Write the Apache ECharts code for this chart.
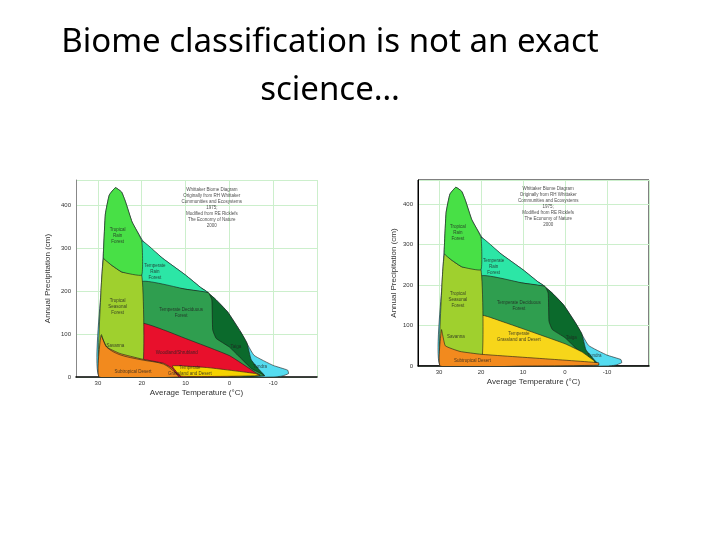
<!DOCTYPE html>
<html><head><meta charset="utf-8">
<script src="https://cdn.jsdelivr.net/npm/echarts@6/dist/echarts.min.js"></script>
<style>body{margin:0;background:#fff}#c{width:720px;height:540px}</style>
</head><body><div id="c"></div>
<script>
// biome polygons, [temperature °C, precipitation cm]
var envelope = [[29.6,0],[29.3,200],[28.7,300],[28.3,380],[27.4,425],[26,442],[24.6,432],[23.7,409],[22.2,362],[19.6,316],[15.2,277],[10,238],[6.3,207],[3.3,183],[0.4,152],[-2.6,105],[-5.6,51],[-10,27],[-13.3,16],[-13.5,8],[-12,2],[-10,0]];
var taiga = [[20,210],[6.3,207],[3.3,183],[0.4,152],[-2.6,105],[-4,80],[-5,40],[-7,15],[-8,3],[20,0]];
var tempRain = [[20,318],[15.2,277],[10,238],[6.3,207],[4.8,197],[10,205],[20,222]];
var tempDecid = [[20,222],[10,205],[4.8,197],[4,180],[3.8,110],[3,90],[0,70],[-5,20],[-8,3],[20,0]];
var woodland = [[20,125],[15,110],[10,90],[0,50],[-6,10],[-7,4],[20,0]];
var grassland1 = [[13,26],[5,22],[-6,8],[-7,3],[11,2]];
var grassland2 = [[20,125],[15,110],[10,92],[0,55],[-4,35],[-7,12],[-7,4],[20,0]];
var tropSeason = [[29.6,0],[29.3,200],[28.7,277],[27,262],[24.5,245],[20,238],[20,0]];
var tropRain = [[28.7,277],[28.7,300],[28.3,380],[27.4,425],[26,442],[24.6,432],[23.7,409],[22.2,362],[20,318],[20,238],[24.5,245],[27,262]];
var savannaLine = [[29.2,100],[28,70],[25,52],[20,40],[15,30],[12,8],[11,0]];
var desert1 = [[29.7,0],[29.3,97],[28,70],[25,55],[20,42],[15,32],[13,20],[12,6],[11.5,0]];
var desert2 = [[29.7,0],[29.4,90],[28.5,50],[25,36],[20,29],[5,18],[-8,8],[-8,2],[10,0]];

var biomes1 = [[envelope,'#55dcf0'],[taiga,'#0b6a2c'],[tempRain,'#2ce6a6'],[tempDecid,'#2f9e4f'],[woodland,'#e8102c'],[grassland1,'#f5d200'],[tropSeason,'#9fd02e'],[tropRain,'#48e046'],[desert1,'#f28a1e']];
var biomes2 = [[envelope,'#55dcf0'],[taiga,'#0b6a2c'],[tempRain,'#2ce6a6'],[tempDecid,'#2f9e4f'],[grassland2,'#f7d61a'],[tropSeason,'#9fd02e'],[tropRain,'#48e046'],[desert2,'#f28a1e']];

var labelNames1 = ['Tropical\nRain\nForest','Temperate\nRain\nForest','Tropical\nSeasonal\nForest','Temperate Deciduous\nForest','Savanna','Woodland/Shrubland','Taiga','Tundra','Temperate\nGrassland and Desert','Subtropical Desert'];
var labelPos1 = [[25.5,330],[17,245],[25.5,165],[11,150],[26,72],[12,56],[-1.5,70],[-7,25],[9,15],[22,13]];
var labelNames2 = ['Tropical\nRain\nForest','Temperate\nRain\nForest','Tropical\nSeasonal\nForest','Temperate Deciduous\nForest','Savanna','Temperate\nGrassland and Desert','Taiga','Tundra','Subtropical Desert'];
var labelPos2 = [[25.5,330],[17,245],[25.5,165],[11,150],[26,72],[11,72],[-1.5,70],[-7,25],[22,14]];
var credit = 'Whittaker Biome Diagram\nOriginally from RH Whittaker\nCommunities and Ecosystems\n1975;\nModified from RE Ricklefs\nThe Economy of Nature\n2000';

var xTicks = [30,20,10,0,-10];
var yTicks = [0,100,200,300,400];

function axes(idx, frame) {
  return {
    x: {type:'value', gridIndex:idx, inverse:true, min:-20, max:35, interval:10,
        name:'Average Temperature (\u00B0C)', nameLocation:'middle', nameGap:12,
        nameTextStyle:{fontSize:8, color:'#333'},
        axisLine:{show:true, onZero:false, lineStyle:{color:'#000', width:1.5}}, axisTick:{show:false},
        axisLabel:{fontSize:6, color:'#333', margin:3, formatter:function(v){return xTicks.indexOf(v)>=0?v:'';}},
        splitLine:{show:true, lineStyle:{color:'#ccefcc'}}},
    y: {type:'value', gridIndex:idx, min:0, max:460, interval:100,
        name:'Annual Precipitation (cm)', nameLocation:'middle', nameGap: frame ? 20 : 24,
        nameTextStyle:{fontSize:8, color:'#333'},
        axisLine:{show:true, onZero:false, lineStyle:{color: frame ? '#000' : '#888'}}, axisTick:{show:false},
        axisLabel:{fontSize:6, color:'#333', margin:5, formatter:function(v){return yTicks.indexOf(v)>=0?v:'';}},
        splitLine:{show:true, lineStyle:{color:'#ccefcc'}}}
  };
}
var a1 = axes(0,false), a2 = axes(1,true);

function polySeries(idx, list) {
  return {type:'custom', xAxisIndex:idx, yAxisIndex:idx, silent:true, clip:true,
    data: list.map(function(b,i){return i;}),
    renderItem:function(params, api){
      var b = list[params.dataIndex];
      return {type:'polygon', shape:{points:b[0].map(function(p){return api.coord(p);}), smooth:0.12},
        style:{fill:b[1], stroke:'#1a1a1a', lineWidth:0.6}};
    }};
}
function lineSeries(idx, pts) {
  return {type:'line', xAxisIndex:idx, yAxisIndex:idx, data:pts, symbol:'none', smooth:0.3, silent:true,
    lineStyle:{color:'#1a1a1a', width:0.6}};
}
function labelSeries(idx, names, pos) {
  var d = names.map(function(n,i){return {value:pos[i], name:n};});
  d.push({value:[4,395], name:credit, label:{fontSize:4.5, color:'#222'}});
  return {type:'scatter', xAxisIndex:idx, yAxisIndex:idx, symbolSize:0, silent:true, data:d,
    label:{show:true, position:'inside', formatter:'{b}', fontSize:4.5, color:'#222', lineHeight:6}};
}

var chart = echarts.init(document.getElementById('c'));
chart.setOption({
  animation:false,
  title:{text:'Biome classification is not an exact\nscience\u2026', left:325, top:14, textAlign:'center',
    textStyle:{fontFamily:'Noto Sans', fontWeight:'normal', fontSize:33, color:'#000', lineHeight:48}},
  grid:[{left:76, top:180, width:241, height:197, show:false},
        {left:418, top:180, width:231, height:186, show:true, borderColor:'#000', borderWidth:1}],
  xAxis:[a1.x, a2.x], yAxis:[a1.y, a2.y],
  series:[polySeries(0,biomes1), lineSeries(0,savannaLine), labelSeries(0,labelNames1,labelPos1),
          polySeries(1,biomes2), labelSeries(1,labelNames2,labelPos2)]
});
</script></body></html>
